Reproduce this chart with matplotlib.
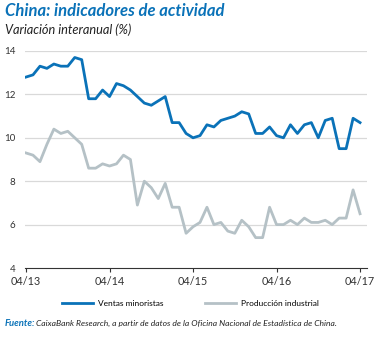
import matplotlib
matplotlib.use("Agg")
import matplotlib.pyplot as plt

plt.rcParams['font.family'] = ['Lato', 'DejaVu Sans']

# --- data: monthly, 04/2013 .. 04/2017 ---
ventas = [12.8, 12.9, 13.3, 13.2, 13.4, 13.3, 13.3, 13.7, 13.6,
          11.8, 11.8, 12.2, 11.9, 12.5, 12.4, 12.2, 11.9, 11.6, 11.5, 11.7, 11.9,
          10.7, 10.7, 10.2, 10.0, 10.1, 10.6, 10.5, 10.8, 10.9, 11.0, 11.2, 11.1,
          10.2, 10.2, 10.5, 10.1, 10.0, 10.6, 10.2, 10.6, 10.7, 10.0, 10.8, 10.9,
          9.5, 9.5, 10.9, 10.7]
produccion = [9.3, 9.2, 8.9, 9.7, 10.4, 10.2, 10.3, 10.0, 9.7,
              8.6, 8.6, 8.8, 8.7, 8.8, 9.2, 9.0, 6.9, 8.0, 7.7, 7.2, 7.9,
              6.8, 6.8, 5.6, 5.9, 6.1, 6.8, 6.0, 6.1, 5.7, 5.6, 6.2, 5.9,
              5.4, 5.4, 6.8, 6.0, 6.0, 6.2, 6.0, 6.3, 6.1, 6.1, 6.2, 6.0,
              6.3, 6.3, 7.6, 6.5]
xtick_labels = ["04/13", "04/14", "04/15", "04/16", "04/17"]
yticks = [4, 6, 8, 10, 12, 14]

blue = "#0a72b8"
gray = "#b5c1c6"
W, H = 378, 338

fig = plt.figure(figsize=(W / 100, H / 100), dpi=100)
ax = fig.add_axes([25 / W, (H - 268) / H, (367 - 25) / W, (268 - 51) / H])

x = list(range(len(ventas)))
l1, = ax.plot(x, ventas, color=blue, lw=2.0, label="Ventas minoristas",
              solid_joinstyle='round', zorder=3)
l2, = ax.plot(x, produccion, color=gray, lw=2.0, label="Producción industrial",
              solid_joinstyle='round', zorder=2)

ax.set_xlim(-0.15, 49)
ax.set_ylim(4, 14)
ax.set_yticks(yticks)
ax.set_yticklabels([str(v) for v in yticks])
ax.set_xticks(range(0, 49, 12))
ax.set_xticklabels(xtick_labels)
for v in yticks[1:]:
    ax.axhline(v, color="#d9d9d9", lw=0.9, zorder=1)

for s in ["top", "right", "left"]:
    ax.spines[s].set_visible(False)
ax.spines["bottom"].set_color("#333333")
ax.spines["bottom"].set_linewidth(0.8)
ax.tick_params(axis="y", length=0, pad=7, labelsize=7, labelcolor="#333333")
ax.tick_params(axis="x", length=3, width=0.8, color="#333333", direction="out",
               pad=3, labelsize=7.8, labelcolor="#333333")

# two one-entry legends, placed where the reference has them
leg_kw = dict(frameon=False, fontsize=6.0, handletextpad=0.6, borderpad=0,
              borderaxespad=0, loc="center left", bbox_transform=fig.transFigure,
              handlelength=31 / 8.33)
leg1 = ax.legend(handles=[l1], bbox_to_anchor=(62 / W, 1 - 303 / H), **leg_kw)
ax.add_artist(leg1)
ax.legend(handles=[l2], bbox_to_anchor=(205 / W, 1 - 303 / H), **leg_kw)

fig.text(5 / W, 1 - 3 / H, "China: indicadores de actividad", color=blue,
         fontsize=12, fontweight="bold", fontstyle="italic", va="top", ha="left")
fig.text(5 / W, 1 - 23 / H, "Variación interanual (%)", color="#222222",
         fontsize=9.2, fontstyle="italic", va="top", ha="left")

t1 = fig.text(5 / W, 1 - 323 / H, "Fuente:", color=blue, fontsize=6.8,
              fontweight="bold", fontstyle="italic", va="center", ha="left")
fig.canvas.draw()
bb = t1.get_window_extent()
fig.text(bb.x1 / W + 1 / W, 1 - 323 / H,
         "CaixaBank Research, a partir de datos de la Oficina Nacional de Estadística de China.",
         color="#222222", fontsize=6.1, fontstyle="italic", va="center", ha="left")

fig.savefig("out.png", dpi=100)
